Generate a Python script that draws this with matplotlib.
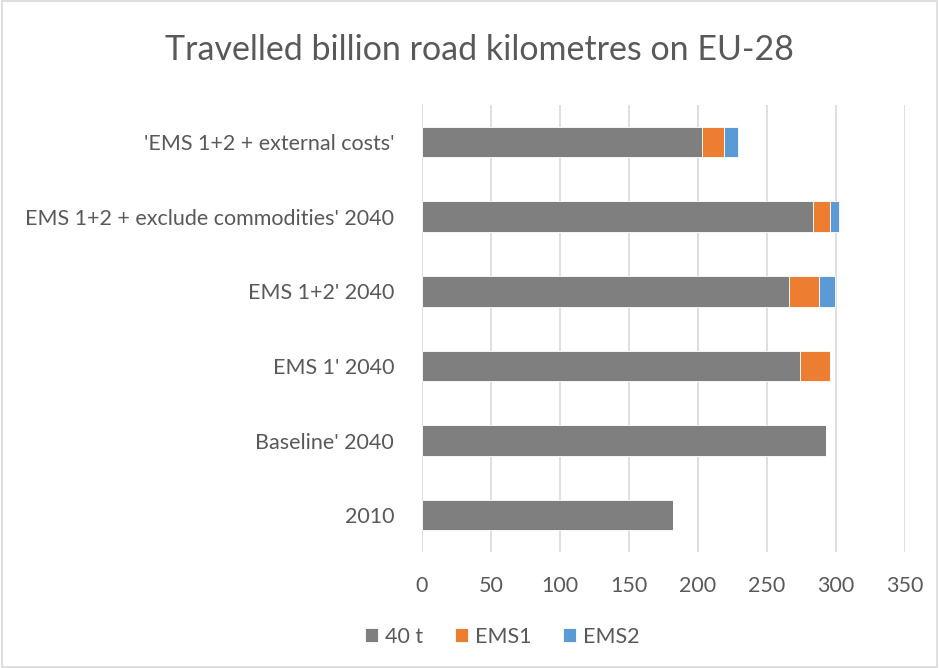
import matplotlib
matplotlib.use('Agg')
import matplotlib.pyplot as plt
import numpy as np

# categories bottom -> top
categories = ["2010", "Baseline' 2040", "EMS 1' 2040", "EMS 1+2' 2040",
              "EMS 1+2 + exclude commodities' 2040", "'EMS 1+2 + external costs'"]
t40 = [182, 293, 274, 266, 283, 203]
ems1 = [0, 0, 22, 22, 13, 16]
ems2 = [0, 0, 0, 11, 6, 10]
xticks = [0, 50, 100, 150, 200, 250, 300, 350]

plt.rcParams['font.family'] = ['Lato', 'DejaVu Sans']
txt = '#595959'

fig = plt.figure(figsize=(9.39, 6.68), dpi=100)
ax = fig.add_axes([0.4494, 0.173, 0.5144, 0.670])

y = np.arange(len(categories))
h = 0.41
ax.barh(y, t40, height=h, color='#7f7f7f', edgecolor='white', linewidth=0.6, label='40 t', zorder=3)
ax.barh(y, ems1, height=h, left=t40, color='#ed7d31', edgecolor='white', linewidth=0.6, label='EMS1', zorder=3)
left2 = np.array(t40) + np.array(ems1)
ax.barh(y, ems2, height=h, left=left2, color='#5b9bd5', edgecolor='white', linewidth=0.6, label='EMS2', zorder=3)

ax.set_xlim(0, 350)
ax.set_ylim(-0.5, len(categories) - 0.5)
ax.set_xticks(xticks)
ax.set_yticks(y)
ax.set_yticklabels(categories)
ax.tick_params(axis='both', length=0, colors=txt, labelsize=15.5)
ax.tick_params(axis='x', pad=17)
ax.tick_params(axis='y', pad=20)
ax.grid(axis='x', color='#d9d9d9', linewidth=1.2, zorder=0)
for s in ax.spines.values():
    s.set_visible(False)

fig.text(0.511, 0.925, 'Travelled billion road kilometres on EU-28', ha='center', va='center',
         fontsize=24.5, color=txt)

leg = fig.legend(loc='center', bbox_to_anchor=(0.535, 0.047), ncol=3, frameon=False,
                 fontsize=15.5, handlelength=0.6, handleheight=0.6, handletextpad=0.3,
                 columnspacing=1.5)
for t in leg.get_texts():
    t.set_color(txt)

fig.patches.append(plt.Rectangle((0.002, 0.002), 0.996, 0.996, transform=fig.transFigure,
                                 fill=False, edgecolor='#d9d9d9', linewidth=1.2))

fig.savefig('out.png', dpi=100, facecolor='white')
